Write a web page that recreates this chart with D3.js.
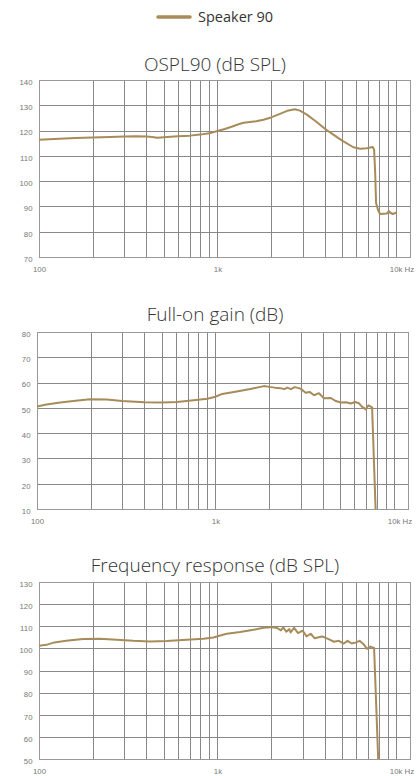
<!DOCTYPE html>
<html lang="en">
<head>
  <meta charset="UTF-8">
  <title>Speaker 90</title>
  <script src="https://d3js.org/d3.v7.min.js"></script>
  <style>
    html, body {
      margin: 0;
      padding: 0;
      background: #fff;
    }
    svg {
      display: block;
    }
    .title {
      font-family: "Open Sans", sans-serif;
      font-size: 19px;
      font-weight: 300;
      fill: #333;
      text-anchor: middle;
    }
    .legend-text {
      font-family: "Open Sans", sans-serif;
      font-size: 14.5px;
      fill: #333;
    }
    .tick text {
      font-family: "Liberation Sans", Arial, sans-serif;
      font-size: 7.8px;
      fill: #777;
    }
    .tick line {
      stroke: #888;
      shape-rendering: crispEdges;
    }
    .frame {
      fill: none;
      stroke: #999;
      shape-rendering: crispEdges;
    }
    .curve {
      fill: none;
      stroke: #a88b5a;
      stroke-width: 2;
      stroke-linejoin: round;
    }
  </style>
</head>
<body>
  <svg width="420" height="776"></svg>
  <script>
    const seriesName = "Speaker 90";
    const titles = ["OSPL90 (dB SPL)", "Full-on gain (dB)", "Frequency response (dB SPL)"];

    // x grid (Hz) and labels
    const gridFreqs = [100, 200, 300, 400, 500, 600, 700, 800, 900,
                       1000, 2000, 3000, 4000, 5000, 6000, 7000, 8000, 9000, 10000];
    const xLabelFreqs = [100, 1000, 10000];
    const xLabels = ["100", "1k", "10k Hz"];

    const osplTicks = [70, 80, 90, 100, 110, 120, 130, 140];
    const gainTicks = [10, 20, 30, 40, 50, 60, 70, 80];
    const respTicks = [50, 60, 70, 80, 90, 100, 110, 120, 130];

    // OSPL90
    const osplFreq = [100, 130, 160, 200, 250, 300, 350, 400, 430, 460, 500, 600, 700, 800, 900,
      1000, 1100, 1200, 1300, 1400, 1520, 1650, 1810, 2000, 2240, 2460, 2720, 2900, 3170, 3600,
      4000, 4460, 5000, 5780, 6300, 6870, 7420, 7550, 7650, 7745, 7950, 8150, 8900, 9150, 9300, 9600, 10100];
    const osplDb = [116.4, 116.8, 117.1, 117.3, 117.5, 117.7, 117.8, 117.7, 117.5, 117.2, 117.4, 117.8, 118.0, 118.4, 118.9,
      119.8, 120.6, 121.5, 122.4, 123.1, 123.4, 123.7, 124.3, 125.2, 126.6, 127.8, 128.4, 127.9, 126.3, 123.4,
      120.7, 118.4, 116.0, 113.4, 112.8, 113.0, 113.5, 112.5, 104.0, 91.4, 88.5, 87.0, 87.2, 88.1, 87.5, 87.0, 87.6];

    // Full-on gain
    const gainFreq = [100, 113, 135, 160, 198, 246, 300, 400, 500, 609, 755, 900,
      1000, 1090, 1270, 1570, 1870, 2000, 2150, 2320, 2430, 2530, 2650, 2780, 3000, 3200, 3370, 3570, 3800,
      4060, 4430, 4730, 5040, 5400, 5730, 6060, 6380, 6600, 6960, 7200, 7550, 7900, 8000];
    const gainDb = [50.5, 51.3, 52.1, 52.7, 53.4, 53.3, 52.7, 52.2, 52.1, 52.3, 53.0, 53.6,
      54.4, 55.5, 56.3, 57.5, 58.6, 58.3, 58.0, 57.8, 57.4, 58.0, 57.4, 58.2, 57.6, 56.0, 56.3, 55.0, 55.8,
      53.8, 53.9, 52.7, 52.1, 52.2, 51.7, 52.3, 51.8, 50.6, 49.4, 51.0, 50.2, 10, 5];

    // Frequency response
    const respFreq = [100, 110, 122, 142, 177, 219, 272, 337, 419, 520, 673, 834, 950,
      1036, 1130, 1340, 1590, 1810, 2000, 2160, 2270, 2340, 2430, 2530, 2570, 2690, 2830, 3000, 3160, 3330, 3500,
      3860, 4200, 4500, 4790, 5100, 5360, 5660, 6000, 6260, 6590, 6890, 7200, 7550, 7960, 8050];
    const respDb = [101.2, 101.6, 102.7, 103.4, 104.2, 104.3, 103.9, 103.4, 103.1, 103.3, 103.9, 104.3, 104.9,
      105.8, 106.6, 107.4, 108.4, 109.3, 109.6, 109.2, 108.1, 109.5, 107.5, 108.7, 107.2, 109.3, 106.9, 108.0, 105.4, 106.6, 104.6,
      105.4, 104.2, 103.0, 103.4, 102.2, 103.4, 102.2, 102.7, 103.4, 101.9, 99.8, 100.8, 100.2, 50, 45];

    const panels = [
      { title: titles[0], freq: osplFreq, db: osplDb, ticks: osplTicks, box: { left: 39, right: 410, top: 80, bottom: 257 }, titleY: 71 },
      { title: titles[1], freq: gainFreq, db: gainDb, ticks: gainTicks, box: { left: 37, right: 408, top: 332, bottom: 509 }, titleY: 321 },
      { title: titles[2], freq: respFreq, db: respDb, ticks: respTicks, box: { left: 39, right: 410, top: 582, bottom: 759 }, titleY: 572 }
    ];

    const svg = d3.select("svg");
    const color = "#a88b5a";

    // legend
    const legend = svg.append("g").attr("transform", "translate(157,17)");
    legend.append("line")
      .attr("x1", 1).attr("x2", 33).attr("y1", 0).attr("y2", 0)
      .attr("stroke", color).attr("stroke-width", 3.5).attr("stroke-linecap", "round");
    legend.append("text")
      .attr("class", "legend-text")
      .attr("x", 41).attr("y", 5)
      .text(seriesName);

    panels.forEach((p, i) => {
      const w = p.box.right - p.box.left;
      const h = p.box.bottom - p.box.top;

      svg.append("text")
        .attr("class", "title")
        .attr("x", 215).attr("y", p.titleY)
        .text(p.title);

      const x = d3.scaleLog().domain([100, 12000]).range([0, w]);
      const y = d3.scaleLinear().domain(d3.extent(p.ticks)).range([h, 0]);

      const g = svg.append("g")
        .attr("transform", `translate(${p.box.left},${p.box.top})`);

      g.append("clipPath").attr("id", "clip" + i)
        .append("rect").attr("width", w).attr("height", h);

      g.append("g")
        .call(d3.axisLeft(y).tickValues(p.ticks).tickSize(-w).tickPadding(6.5))
        .call(a => a.select(".domain").remove())
        .call(a => a.selectAll("text").attr("dy", "0.55em"));

      g.append("g")
        .attr("transform", `translate(0,${h})`)
        .call(d3.axisBottom(x).tickValues(gridFreqs).tickSize(-h).tickPadding(9)
          .tickFormat(d => {
            const k = xLabelFreqs.indexOf(d);
            return k < 0 ? "" : xLabels[k];
          }))
        .call(a => a.select(".domain").remove())
        .call(a => a.selectAll("text")
          .filter(d => d === 10000)
          .attr("text-anchor", "start")
          .attr("dx", -6.5));

      g.append("rect").attr("class", "frame").attr("width", w).attr("height", h);

      const pts = p.freq.map((f, j) => [f, p.db[j]]);
      g.append("path")
        .datum(pts)
        .attr("class", "curve")
        .attr("clip-path", `url(#clip${i})`)
        .attr("d", d3.line().x(d => x(d[0])).y(d => y(d[1])));
    });
  </script>
</body>
</html>
